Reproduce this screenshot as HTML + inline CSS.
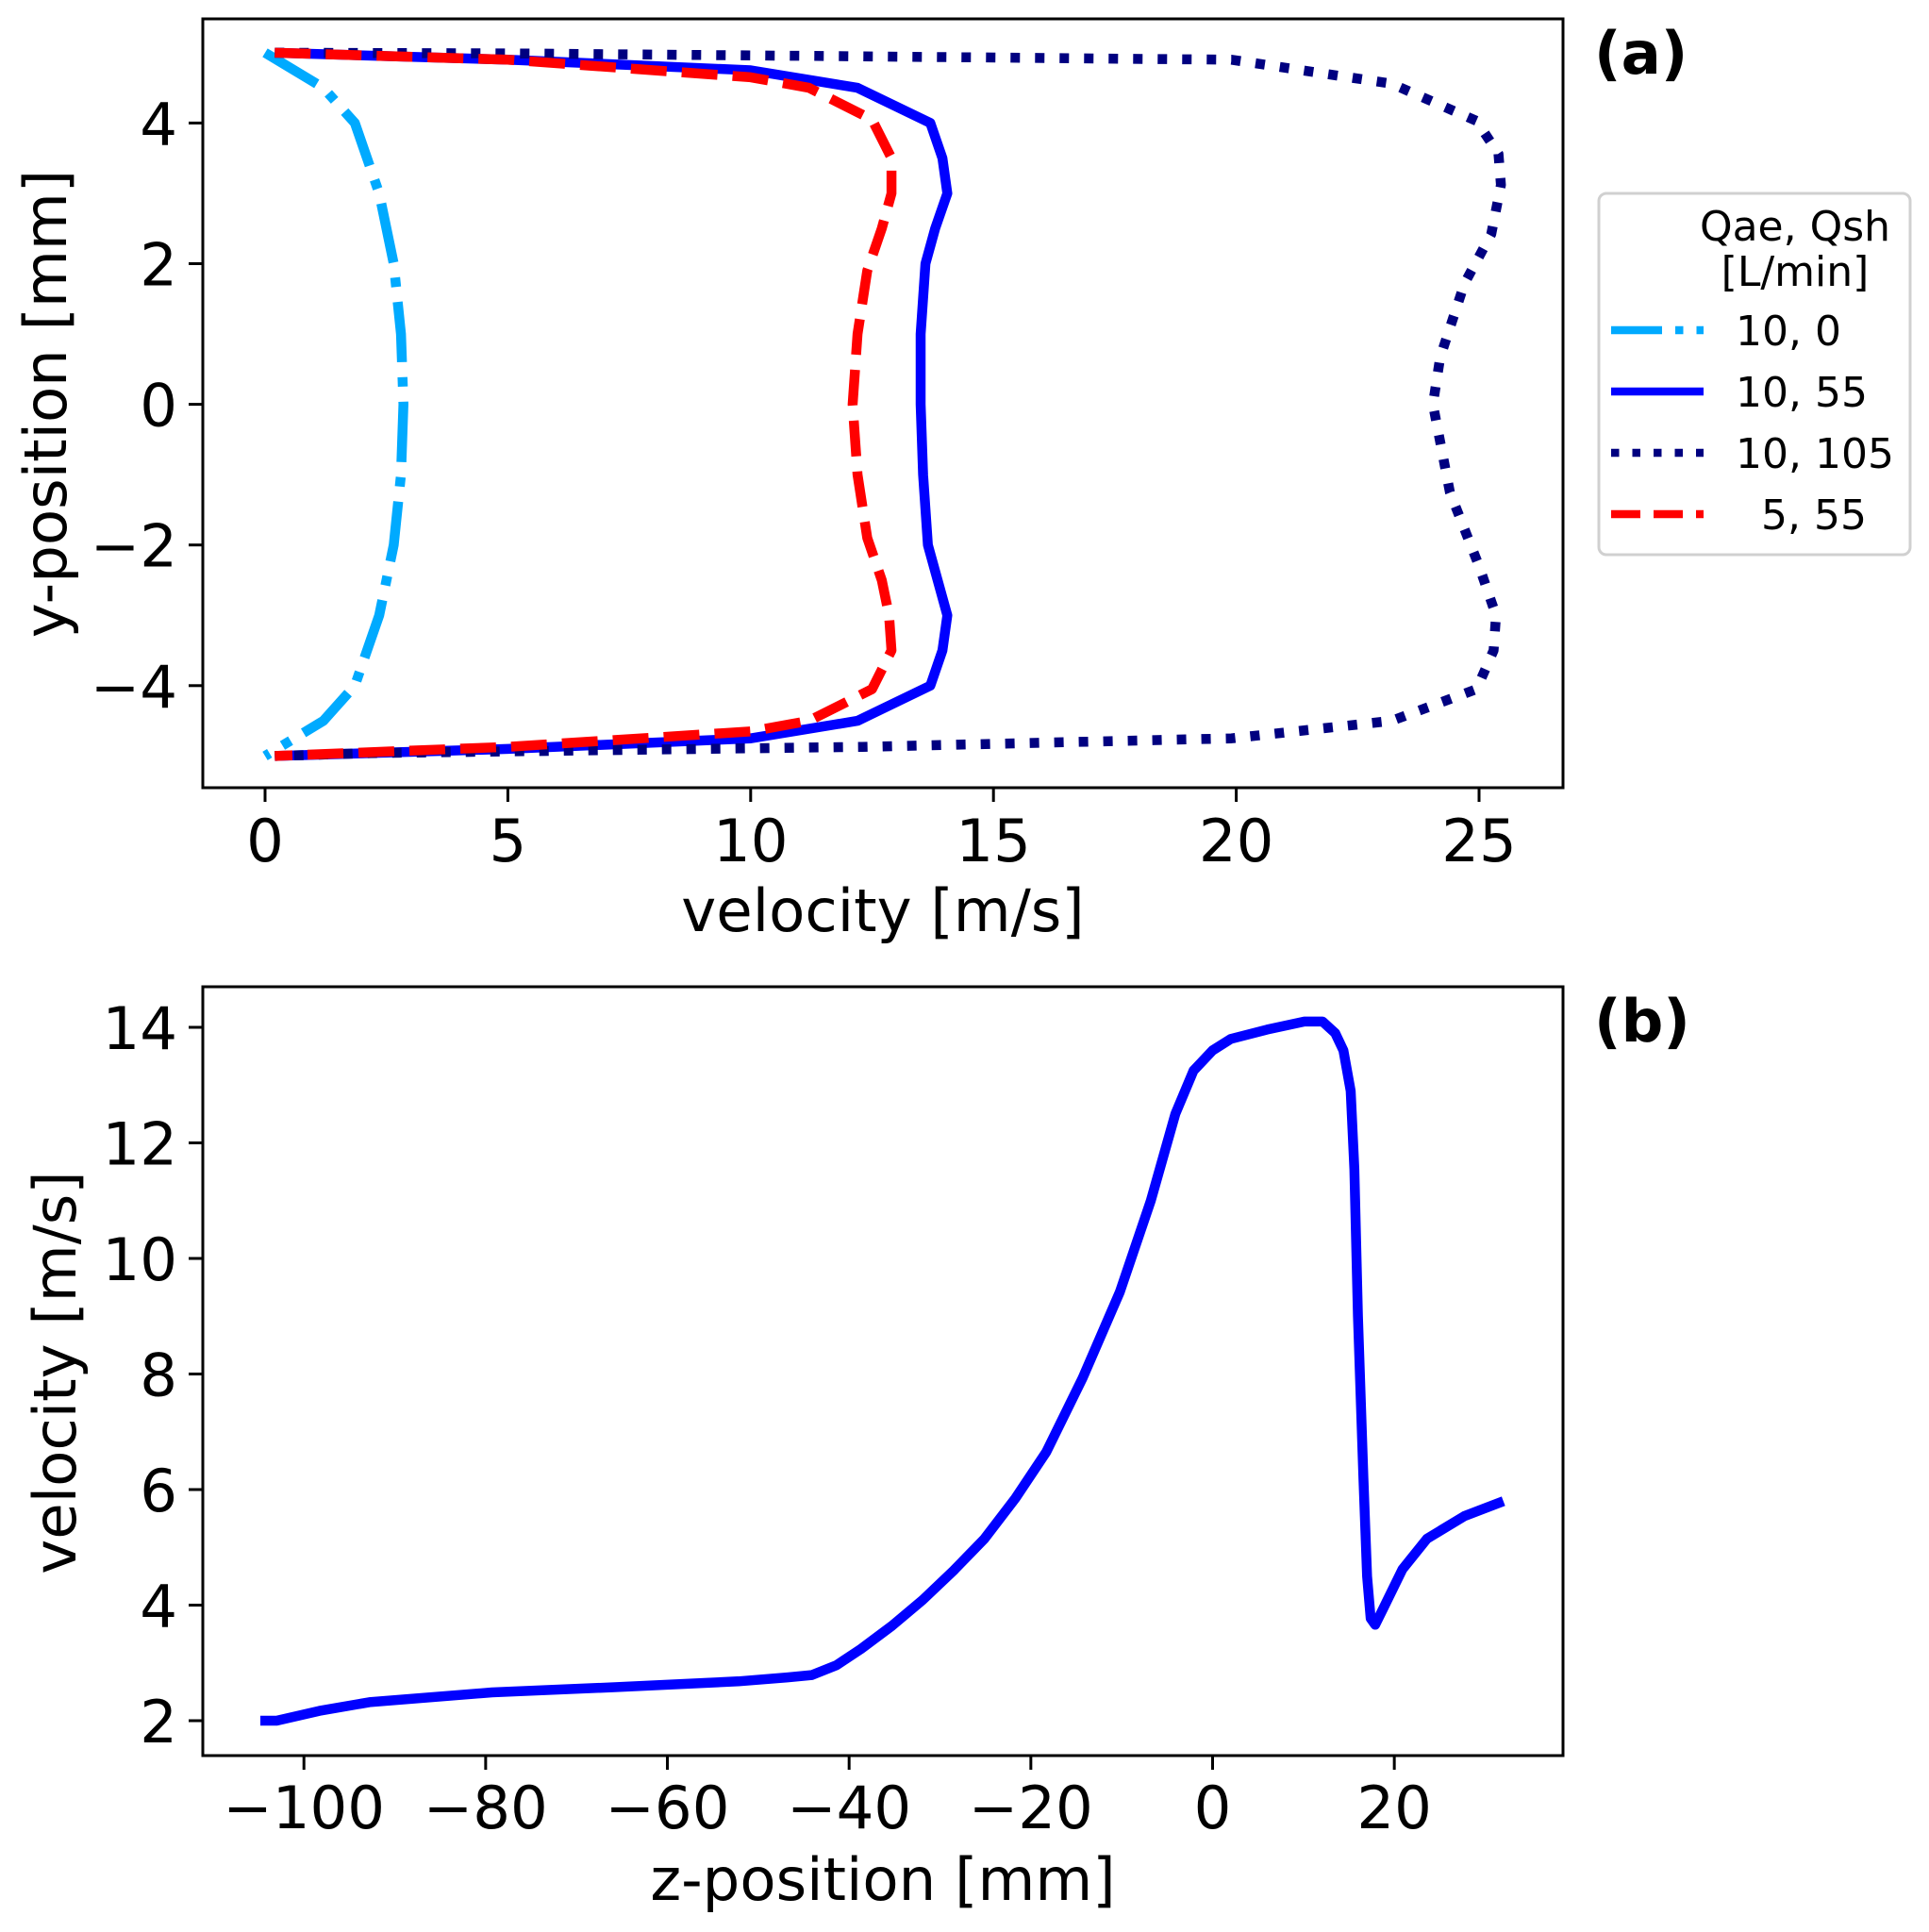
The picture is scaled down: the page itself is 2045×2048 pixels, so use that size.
<!DOCTYPE html>
<html><head><meta charset="utf-8"><style>
html,body{margin:0;padding:0;background:#fff}
svg{display:block}
text{font-family:"DejaVu Sans","Liberation Sans",sans-serif;fill:#000}
</style></head><body>
<svg id="fig" width="2045" height="2048" viewBox="0 0 2045 2048" xmlns="http://www.w3.org/2000/svg"></svg>
<script>
// ---- Panel (a) data ----
const aXTicks = [0,5,10,15,20,25];
const aYTicks = [-4,-2,0,2,4];
const s100Y = [5,4.5,4,3,2,1,0,-1,-2,-3,-4,-4.5,-5];
const s100X = [0,1.2,1.85,2.35,2.65,2.8,2.85,2.8,2.65,2.35,1.85,1.2,0];
const s1055Y = [5,4.9,4.75,4.5,4.0,3.5,3.0,2.5,2.0,1.0,0,-1,-2,-2.5,-3,-3.5,-4,-4.5,-4.75,-4.9,-5];
const s1055X = [0.2,5,10,12.2,13.7,13.95,14.05,13.8,13.6,13.5,13.5,13.55,13.65,13.85,14.05,13.95,13.7,12.2,10,5,0.2];
const s10105Y = [5,4.99,4.95,4.9,4.56,4.03,3.56,3.12,2.42,1.72,0.67,0,-1.25,-2.3,-3.0,-3.5,-4.05,-4.5,-4.75,-4.87,-4.96,-5];
const s10105X = [0.2,5,12,19.9,23.2,24.95,25.4,25.45,25.25,24.7,24.2,24.05,24.4,25.0,25.35,25.3,24.95,23.2,19.9,12.3,2.1,0.2];
const s555Y = [5,4.9,4.65,4.5,4.05,3.5,3,2.5,1.9,1,0,-1,-1.9,-2.5,-3,-3.5,-4.05,-4.5,-4.65,-4.87,-5];
const s555X = [0.2,5,10,11.2,12.5,12.9,12.9,12.7,12.4,12.2,12.1,12.2,12.4,12.7,12.85,12.9,12.5,11.2,10,5,0.2];
// ---- Panel (b) data ----
const bXTicks = [-100,-80,-60,-40,-20,0,20];
const bYTicks = [2,4,6,8,10,12,14];
const bZ = [-104.8,-103,-98.3,-92.8,-79.3,-65.8,-52.2,-46.8,-44.1,-41.4,-38.7,-35.3,-31.9,-28.5,-25.1,-21.7,-18.3,-14.3,-10.2,-6.8,-4.1,-2.1,0,2,6,10.1,12.1,13.5,14.4,15.2,15.6,16.0,16.6,17,17.4,17.9,18.9,20.9,23.6,27.7,32];
const bV = [2.0,2.0,2.17,2.32,2.49,2.58,2.68,2.75,2.79,2.96,3.24,3.64,4.09,4.6,5.15,5.85,6.65,7.93,9.42,11.0,12.5,13.25,13.6,13.8,13.96,14.1,14.1,13.9,13.6,12.9,11.55,9.0,6.2,4.5,3.77,3.66,3.98,4.62,5.15,5.54,5.8];

const NS='http://www.w3.org/2000/svg';
const svg=document.getElementById('fig');
function mk(tag,attrs,parent){const e=document.createElementNS(NS,tag);for(const k in attrs)e.setAttribute(k,attrs[k]);(parent||svg).appendChild(e);return e;}
function txt(s,x,y,size,anchor,parent,extra){const t=mk('text',Object.assign({x:x,y:y,'font-size':size,'text-anchor':anchor||'middle'},extra||{}),parent);t.textContent=s;return t;}

const FS=62.5, LW=10.5;
const aL=215,aR=1657,aT=20,aB=835;
const ax=v=>281+v*51.48, ay=v=>428.6-v*74.55;
const bL=215,bR=1657,bT=1046,bB=1861;
const bx=v=>1285.5+v*9.633, by=v=>1824-(v-2)*61.25;

function frame(L,T,R,B,name){const r=mk('rect',{x:L,y:T,width:R-L,height:B-T,fill:'none',stroke:'#000','stroke-width':3});}

const gA=mk('g',{});


aXTicks.forEach(v=>{const x=ax(v);mk('line',{x1:x,x2:x,y1:aB,y2:aB+15,stroke:'#000','stroke-width':3},gA);const t=txt(String(v),x,913,FS,'middle',gA);});
aYTicks.forEach(v=>{const y=ay(v);mk('line',{x1:aL-15,x2:aL,y1:y,y2:y,stroke:'#000','stroke-width':3},gA);const t=txt(String(v).replace('-','\u2212'),188,y+23,FS,'end',gA);});

function series(X,Y,fx,fy,color,dash,name,parent){const d=X.map((v,i)=>(i?'L':'M')+fx(v).toFixed(1)+' '+fy(Y[i]).toFixed(1)).join(' ');const p=mk('path',{d:d,fill:'none',stroke:color,'stroke-width':LW,'stroke-dasharray':dash||'none','stroke-linejoin':'round'},parent);return p;}
series(s100X,s100Y,ax,ay,'#00aaff','64 16 10 16','series-10-0',gA);
series(s1055X,s1055Y,ax,ay,'#0000ff',null,'series-10-55',gA);
series(s10105X,s10105Y,ax,ay,'#000080','10 16','series-10-105',gA);
series(s555X,s555Y,ax,ay,'#ff0000','38 16','series-5-55',gA);
frame(aL,aT,aR,aB,'panel-a-frame');
const xla=txt('velocity [m/s]',936,987,FS,'middle',gA);


const yla=txt('y-position [mm]',0,0,FS,'middle',gA,{transform:'translate(70,428) rotate(-90)'});


const la=txt('(a)',1690,78,FS,'start',gA,{'font-weight':'bold'});



const lg=mk('g',{});


mk('rect',{x:1695,y:205,width:330,height:383,rx:8,fill:'#fff',stroke:'#d0d0d0','stroke-width':3},lg);
const lt1=txt('Qae, Qsh',1903,255,44,'middle',lg);


const lt2=txt('[L/min]',1903,303,44,'middle',lg);


const legItems=[['10, 0','#00aaff','54 14 8.5 14',1840],['10, 55','#0000ff','none',1840],['10, 105','#000080','8.5 14',1840],['5, 55','#ff0000','31 14',1867]];
legItems.forEach((it,i)=>{const y=350+i*65;const e=mk('g',{},lg);mk('line',{x1:1708,x2:1806,y1:y,y2:y,stroke:it[1],'stroke-width':8.5,'stroke-dasharray':it[2]},e);txt(it[0],it[3],y+16,44,'start',e);});

const gB=mk('g',{});


bXTicks.forEach(v=>{const x=bx(v);mk('line',{x1:x,x2:x,y1:bB,y2:bB+15,stroke:'#000','stroke-width':3},gB);const t=txt(String(v).replace('-','\u2212'),x,1938,FS,'middle',gB);});
bYTicks.forEach(v=>{const y=by(v);mk('line',{x1:bL-15,x2:bL,y1:y,y2:y,stroke:'#000','stroke-width':3},gB);const t=txt(String(v),188,y+23,FS,'end',gB);});
series(bZ,bV,bx,by,'#0000ff',null,'velocity-profile-line',gB);
frame(bL,bT,bR,bB,'panel-b-frame');
const xlb=txt('z-position [mm]',936,2014,FS,'middle',gB);


const ylb=txt('velocity [m/s]',0,0,FS,'middle',gB,{transform:'translate(80,1455) rotate(-90)'});


const lb=txt('(b)',1690,1104,FS,'start',gB,{'font-weight':'bold'});


</script>
</body></html>
